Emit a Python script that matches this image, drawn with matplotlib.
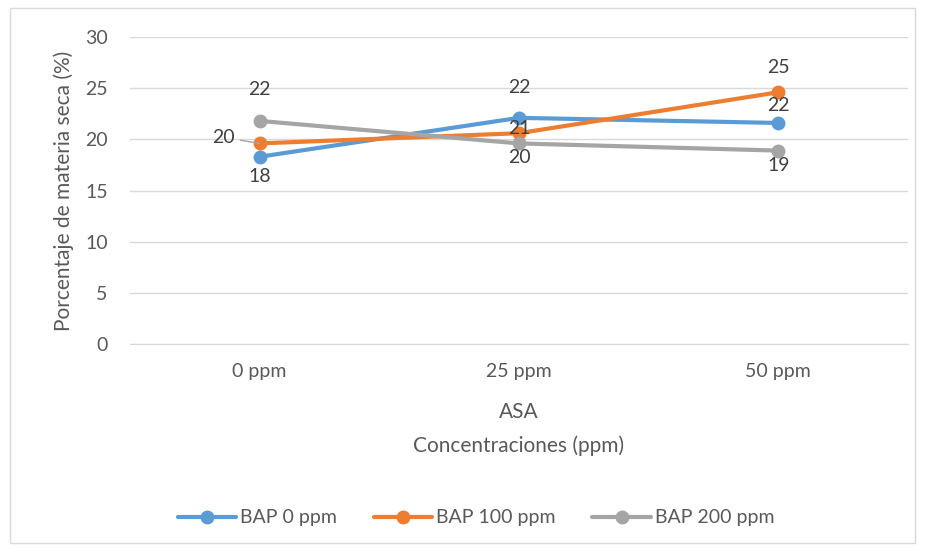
import matplotlib.pyplot as plt
from matplotlib.patches import Rectangle

# data
categories = ['0 ppm', '25 ppm', '50 ppm']
series_names = ['BAP 0 ppm', 'BAP 100 ppm', 'BAP 200 ppm']
bap_0 = [18.3, 22.1, 21.6]
bap_100 = [19.6, 20.6, 24.6]
bap_200 = [21.8, 19.6, 18.9]
y_ticks = [0, 5, 10, 15, 20, 25, 30]

colors = ['#5B9BD5', '#ED7D31', '#A5A5A5']
# label offsets in pixels (dx, dy), one per point
label_offsets = [
    [(0, -20), (0, 30), (0, 17)],
    [(-36, 6), (0, 5), (0, 25)],
    [(0, 31), (0, -14), (0, -15)],
]

plt.rcParams['font.family'] = ['Lato', 'DejaVu Sans']
text_col = '#595959'
label_col = '#404040'

fig = plt.figure(figsize=(9.25, 5.51), dpi=100)
ax = fig.add_axes([130 / 925, 1 - 344 / 551, 778 / 925, 307 / 551])

x = list(range(len(categories)))
for vals, name, col, offs in zip([bap_0, bap_100, bap_200], series_names, colors, label_offsets):
    ax.plot(x, vals, color=col, lw=3, marker='o', markersize=9, label=name,
            solid_capstyle='round', zorder=3)
    for xi, v, (dx, dy) in zip(x, vals, offs):
        arrow = None
        if abs(dx) > 20:
            arrow = dict(arrowstyle='-', color='#A6A6A6', lw=1, shrinkA=2, shrinkB=0)
        ax.annotate(f'{round(v)}', (xi, v), xytext=(dx * 0.72, dy * 0.72),
                    textcoords='offset points', ha='center', va='center',
                    fontsize=14, color=label_col, arrowprops=arrow, zorder=4)

ax.set_xlim(-0.5, 2.5)
ax.set_ylim(0, 30)
ax.set_yticks(y_ticks)
ax.set_xticks(x)
ax.set_xticklabels(categories)
ax.grid(axis='y', color='#D9D9D9', lw=1)
ax.set_axisbelow(True)
for s in ['top', 'right', 'left']:
    ax.spines[s].set_visible(False)
ax.spines['bottom'].set_color('#D9D9D9')
ax.tick_params(axis='both', length=0, labelsize=14, labelcolor=text_col)
ax.tick_params(axis='y', pad=16)
ax.tick_params(axis='x', pad=14)

ax.set_ylabel('Porcentaje de materia seca (%)', fontsize=15, color=text_col, labelpad=8)
fig.text(519 / 925, 1 - 412 / 551, 'ASA', ha='center', va='center', fontsize=15, color=text_col)
fig.text(519 / 925, 1 - 446 / 551, 'Concentraciones (ppm)', ha='center', va='center',
         fontsize=15, color=text_col)

fig.legend(loc='center', bbox_to_anchor=(476 / 925, 1 - 518 / 551), ncol=3, frameon=False,
           fontsize=14, labelcolor=text_col, handlelength=3.0, columnspacing=1.9,
           handletextpad=0.2)

fig.patches.append(Rectangle((10 / 925, 8 / 551), 905 / 925, 535 / 551, transform=fig.transFigure,
                             fill=False, edgecolor='#D9D9D9', lw=1))

fig.savefig('out.png', dpi=100)
